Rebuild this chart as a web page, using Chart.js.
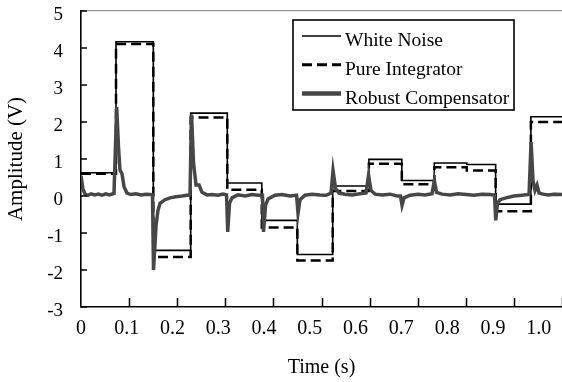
<!DOCTYPE html>
<html>
<head>
<meta charset="utf-8">
<script src="https://cdn.jsdelivr.net/npm/chart.js@4.4.1/dist/chart.umd.min.js"></script>
<style>
html,body{margin:0;padding:0;background:#fff;}
#wrap{width:562px;height:382px;}
</style>
</head>
<body>
<div id="wrap"><canvas id="c" width="562" height="382"></canvas></div>
<script>
// ---- data ----
const seriesNames = ["White Noise", "Pure Integrator", "Robust Compensator"];
const xTickValues = [0, 0.1, 0.2, 0.3, 0.4, 0.5, 0.6, 0.7, 0.8, 0.9, 1.0];
const yTickValues = [-3, -2, -1, 0, 1, 2, 3, 4, 5];

const stepTime = [0, 0.0765, 0.158, 0.2397, 0.3197, 0.395, 0.4727, 0.550, 0.629, 0.701, 0.772, 0.843, 0.906, 0.983, 1.051];
const whiteNoise = [0.63, 4.17, -1.47, 2.24, 0.35, -0.66, -1.58, 0.27, 0.99, 0.42, 0.89, 0.85, -0.22, 2.14, 2.14];
const pureIntegrator = [0.6, 4.11, -1.65, 2.12, 0.17, -0.85, -1.74, 0.135, 0.875, 0.32, 0.78, 0.69, -0.41, 2.0, 1.96];

const robustTime = [0, 0.004, 0.009, 0.015, 0.022, 0.030, 0.038, 0.046, 0.054, 0.062, 0.0721, 0.078, 0.082, 0.0852, 0.0896, 0.094, 0.1005,
  0.109, 0.12, 0.131, 0.142, 0.151, 0.1562, 0.1584, 0.164, 0.168, 0.1726, 0.1836, 0.1945, 0.2076, 0.2207, 0.2316, 0.2382,
  0.2415, 0.2458, 0.2513, 0.2579, 0.2644, 0.2753, 0.2863, 0.2994, 0.3103, 0.318, 0.3206, 0.3245, 0.33, 0.343, 0.3584, 0.3737,
  0.3868, 0.3966, 0.3988, 0.4032, 0.4087, 0.424, 0.4392, 0.4567, 0.471, 0.4742, 0.4786, 0.4895, 0.5048, 0.5223, 0.5354, 0.5463,
  0.5507, 0.5562, 0.5638, 0.5769, 0.5922, 0.6097, 0.6228, 0.6283, 0.6337, 0.6425, 0.6578, 0.6753, 0.6906, 0.6982, 0.7015, 0.7059,
  0.719, 0.7364, 0.7517, 0.767, 0.772, 0.7769, 0.7889, 0.8064, 0.8239, 0.8413, 0.8588, 0.8763, 0.8937, 0.9036, 0.9062, 0.9101,
  0.9156, 0.9287, 0.9462, 0.9637, 0.979, 0.9834, 0.9878, 0.9921, 0.9965, 1.0009, 1.0096, 1.0205, 1.0337, 1.0512];
const robustCompensator = [0.55, 0.2, 0.05, 0.02, 0.06, 0.03, 0.05, 0.02, 0.06, 0.03, 0.07, 2.4, 1.3, 0.7, 0.6, 0.25, 0.08,
  0.04, 0.06, 0.03, 0.05, 0.04, 0.03, -2.0, -0.8, -0.4, -0.2, -0.1, -0.05, -0.02, 0.0, 0.02, 0.03,
  2.2, 0.9, 0.3, 0.3, 0.1, 0.03, 0.04, 0.02, 0.05, 0.03, -0.97, -0.2, -0.05, 0.03, 0.0, 0.04,
  0.02, 0.02, -0.97, -0.25, -0.08, 0.02, 0.04, 0.0, 0.02, -0.47, -0.1, 0.02, 0.05, 0.03, 0.02, 0.08,
  0.69, 0.2, 0.08, 0.05, 0.03, 0.06, 0.08, 0.56, 0.15, 0.05, 0.03, 0.05, 0.0, 0.0, -0.25, -0.05,
  0.02, 0.05, 0.03, 0.06, 0.42, 0.1, 0.05, 0.03, 0.06, 0.04, 0.02, 0.05, 0.04, 0.02, -0.66, -0.2,
  -0.1, -0.05, 0.0, 0.02, 0.04, 1.46, 0.4, 0.15, 0.29, 0.08, 0.05, 0.03, 0.05, 0.04];

const xMax = 1.051;
const xTickCount = 10;

// ---- chart ----
const FONT = "'Liberation Serif', 'Times New Roman', serif";
Chart.defaults.color = '#000';
Chart.defaults.font.family = FONT;

const pts = (xs, ys) => xs.map((x, i) => ({x: x, y: ys[i]}));
const noPad = s => { s.paddingTop = 0; s.paddingBottom = 0; s.paddingLeft = 0; s.paddingRight = 0; };

const insideTicks = {
  id: 'insideTicks',
  afterDraw(chart) {
    const ctx = chart.ctx, a = chart.chartArea;
    const y = chart.scales.y, xt = chart.scales.xt;
    ctx.save();
    ctx.strokeStyle = '#000';
    ctx.lineWidth = 1.5;
    y.ticks.forEach(t => {
      const py = Math.round(y.getPixelForValue(t.value));
      ctx.beginPath(); ctx.moveTo(a.left, py); ctx.lineTo(a.left + 6, py); ctx.stroke();
    });
    xt.ticks.forEach(t => {
      if (t.value === 0) return;
      const px = Math.round(xt.getPixelForValue(t.value)) + 0.5;
      ctx.beginPath(); ctx.moveTo(px, a.bottom); ctx.lineTo(px, a.bottom - 9); ctx.stroke();
    });
    ctx.restore();
  }
};

const boxLegend = {
  id: 'boxLegend',
  afterDraw(chart) {
    const ctx = chart.ctx, a = chart.chartArea;
    const L = a.left + 212, T = a.top + 9, W = 221, H = 90;
    ctx.save();
    ctx.fillStyle = '#fff';
    ctx.fillRect(L, T, W, H);
    ctx.strokeStyle = '#000';
    ctx.lineWidth = 1.6;
    ctx.strokeRect(L, T, W, H);
    ctx.font = "19.5px " + FONT;
    ctx.textBaseline = 'alphabetic';
    ctx.fillStyle = '#000';
    chart.data.datasets.forEach((ds, i) => {
      const base = T + 26 + i * 28.8;
      const ly = base - 10;
      ctx.beginPath();
      ctx.strokeStyle = ds.borderColor;
      ctx.lineWidth = ds.legendWidth;
      ctx.setLineDash(ds.borderDash || []);
      ctx.moveTo(L + 9, ly); ctx.lineTo(L + 48, ly); ctx.stroke();
      ctx.setLineDash([]);
      ctx.fillText(ds.label, L + 52, base);
    });
    ctx.restore();
  }
};

new Chart(document.getElementById('c'), {
  type: 'line',
  data: {
    datasets: [
      {label: seriesNames[0], data: pts(stepTime, whiteNoise), stepped: true, borderColor: '#000', borderWidth: 1.6, legendWidth: 1.6, pointRadius: 0, order: 3},
      {label: seriesNames[1], data: pts(stepTime, pureIntegrator), stepped: true, borderColor: '#000', borderWidth: 2.5, borderDash: [10, 5], legendWidth: 3, pointRadius: 0, order: 2},
      {label: seriesNames[2], data: pts(robustTime, robustCompensator), borderColor: '#474747', borderWidth: 3.5, legendWidth: 4.5, pointRadius: 0, tension: 0, order: 1}
    ]
  },
  options: {
    responsive: false,
    animation: false,
    devicePixelRatio: 1,
    layout: {padding: {top: 11, right: 0, left: 0, bottom: 0}},
    plugins: {legend: {display: false}, tooltip: {enabled: false}},
    scales: {
      x: {
        type: 'linear', position: 'bottom', min: 0, max: xMax,
        afterFit: s => { s.height = 75; noPad(s); },
        afterBuildTicks: s => { s.ticks = xTickValues.map(v => ({value: v})); },
        ticks: {autoSkip: false, maxRotation: 0, padding: 10, font: {size: 20},
          callback: v => (v === 0 ? '0' : v.toFixed(1))},
        grid: {display: false, drawTicks: false},
        border: {display: true, color: '#000', width: 1.6},
        title: {display: true, text: 'Time (s)', font: {size: 20}, padding: {top: 0, bottom: 2}}
      },
      xt: {
        type: 'linear', position: 'bottom', min: 0, max: xTickCount,
        afterFit: s => { s.height = 0; noPad(s); },
        ticks: {stepSize: 1, display: false},
        grid: {display: false, drawTicks: false},
        border: {display: false}
      },
      y: {
        type: 'linear', min: -3, max: 5,
        afterFit: s => { s.width = 81; noPad(s); },
        afterBuildTicks: s => { s.ticks = yTickValues.map(v => ({value: v})); },
        ticks: {padding: 18, labelOffset: 4, font: {size: 19}, callback: v => String(v)},
        grid: {drawTicks: false, lineWidth: 1.2,
          color: c => (c.tick && c.tick.value === 5 ? '#9a9a9a' : 'rgba(0,0,0,0)')},
        border: {display: true, color: '#000', width: 1.6},
        title: {display: true, text: 'Amplitude (V)', font: {size: 21}, padding: {top: 4, bottom: 0}}
      }
    }
  },
  plugins: [insideTicks, boxLegend]
});
</script>
</body>
</html>
